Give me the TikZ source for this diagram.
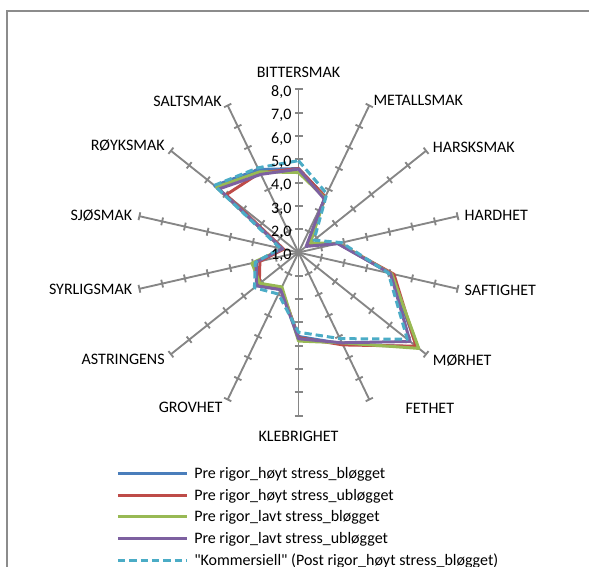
\documentclass[tikz,border=0pt]{standalone}
\usepackage{fontspec}
\setmainfont{Carlito}[Ligatures=TeXOff]
\usepackage{tikz}
\usetikzlibrary{positioning}

\definecolor{axisgray}{HTML}{868686}
\definecolor{framegray}{HTML}{8C8C8C}
\definecolor{sblue}{HTML}{4A7EBB}
\definecolor{sred}{HTML}{BE4B48}
\definecolor{sgreen}{HTML}{98B954}
\definecolor{spurple}{HTML}{7D60A0}
\definecolor{scyan}{HTML}{4BACC6}

\newcommand{\unitpx}{23.31}
\newcommand{\radarline}[3]{%
  \foreach \v [count=\j from 0] in {#3}
    \coordinate (#1\j) at ({90-\j*360/14}:{(\v-1)*\unitpx});
  \draw[#2] (#10) \foreach \j in {1,...,13} {-- (#1\j)} -- cycle;
}

\begin{document}
\begin{tikzpicture}[x=0.75pt, y=0.75pt]
    \tikzstyle{spoke} = [draw=axisgray, line width=1.4pt]
    \tikzstyle{txt} = [inner sep=0pt, font=\fontsize{12}{14}\selectfont,
	text height=7.7pt, text depth=0pt]
    \tikzstyle{serie} = [line width=2.25pt, line join=round]
    \tikzstyle{blueline} = [serie, sblue]
    \tikzstyle{redline} = [serie, sred]
    \tikzstyle{greenline} = [serie, sgreen]
    \tikzstyle{purpleline} = [serie, spurple]
    \tikzstyle{cyanline} = [serie, scyan, dash pattern=on 5.5pt off 3pt]

    \useasboundingbox (-298.5,-314.5) rectangle (290.5,252.5);
    \clip (-298.5,-314.5) rectangle (290.5,252.5);
    \draw[framegray, line width=1.3pt] (-291.5,-330) |- (310,241.5);

    \foreach \k in {0,...,13} {
        \draw[spoke] (0,0) -- ({90-\k*360/14}:{7*\unitpx}) coordinate (e\k);
        \foreach \t in {1,...,7}
            \draw[spoke] ({90-\k*360/14}:{\t*\unitpx}) ++({-\k*360/14}:4)
                -- ++({180-\k*360/14}:8);
    }

    \foreach \lab/\anc/\dx/\dy [count=\k from 0] in {BITTERSMAK/south/0/12,
        METALLSMAK/west/4/5, HARSKSMAK/west/6.6/3, HARDHET/west/6.7/1,
        SAFTIGHET/west/6.7/-2, MØRHET/west/6.5/-6, FETHET/west/36/-9,
        KLEBRIGHET/north/0/-15, GROVHET/east/-5/-7.6, ASTRINGENS/east/-6/-5,
        SYRLIGSMAK/east/-7/-1, SJØSMAK/east/-7/1, RØYKSMAK/east/-6/5,
        SALTSMAK/east/-5.7/4}
        \node[txt, anchor=\anc, shift={(\dx,\dy)}] (lab\k) at (e\k) {\lab};

    \radarline{b}{blueline}{4.6, 3.65, 1.5, 2.75, 5.05, 7.5, 5.35, 4.6, 2.75, 3.25, 2.85, 1.7, 5.6, 4.95}
    \radarline{r}{redline}{4.6, 3.65, 1.55, 2.75, 5.2, 7.45, 5.4, 4.65, 2.7, 3.15, 2.7, 1.65, 4.97, 4.8}
    \radarline{g}{greenline}{4.43, 3.6, 1.65, 2.75, 5.1, 7.6, 5.3, 4.8, 2.64, 3.12, 3.05, 1.7, 5.5, 4.84}
    \radarline{p}{purpleline}{4.58, 3.55, 1.42, 2.72, 5.05, 7.12, 5.3, 4.7, 2.77, 3.3, 2.87, 1.7, 5.37, 4.72}
    \radarline{c}{cyanline}{4.94, 3.8, 1.85, 2.9, 4.95, 6.97, 5.1, 4.42, 2.98, 3.42, 2.9, 1.8, 5.62, 5.03}

    \foreach \t in {1,...,8}
        \node[txt, anchor=east] (v\t) at (-6.8,{(\t-1)*\unitpx-2}) {\t,0};

    \foreach \txt/\sty [count=\i from 0] in {%
        Pre rigor\_høyt stress\_bløgget/blueline,
        Pre rigor\_høyt stress\_ubløgget/redline,
        Pre rigor\_lavt stress\_bløgget/greenline,
        Pre rigor\_lavt stress\_ubløgget/purpleline,
        "Kommersiell" (Post rigor\_høyt stress\_bløgget)/cyanline} {
        \path (-180.5,{-220.8-\i*21.7}) coordinate (la\i)
              (-111.5,{-220.8-\i*21.7}) coordinate (lb\i);
        \draw[\sty] (la\i) -- (lb\i);
        \node[txt, anchor=west, right=5.25pt of lb\i] (leg\i) {\txt};
    }
\end{tikzpicture}
\end{document}
